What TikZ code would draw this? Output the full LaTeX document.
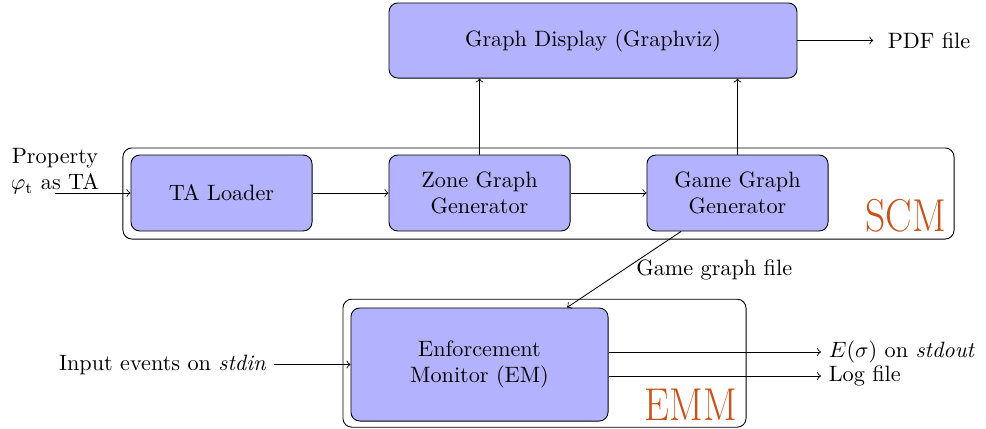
\documentclass[tikz,border=0pt]{standalone}
\usepackage{amsmath, amsfonts, amssymb}
\usepackage{xcolor}
\usepackage{tikz}
\definecolor{modcolor}{RGB}{200,82,25}
\tikzset{
block/.style={draw, rounded corners, fill=blue!30, align=center, inner sep=0pt},
modbox/.style={draw, rounded corners, inner sep=0pt},
modname/.style={anchor=south east, inner sep=0pt, text=modcolor, font=\huge, xscale=0.86}
}

\begin{document}
\begin{tikzpicture}[x=0.45pt, y=-0.45pt]
\useasboundingbox (0,0) rectangle (986,428);
% the two modules
\node[modbox, minimum width=374pt, minimum height=41pt] (scm) at (538.5,193.5) {};
\node[modbox, minimum width=181.4pt, minimum height=57.6pt] (emm) at (544.5,363.2) {};
\node[modname] at ([xshift=-3.6pt, yshift=3.2pt]scm.south east) {SCM};
\node[modname] at ([xshift=-4pt, yshift=3.2pt]emm.south east) {EMM};
% blocks
\node[block, minimum width=183.6pt, minimum height=33.8pt] (gd) at (593,40.5) {Graph Display (Graphviz)};
\node[block, minimum width=81.5pt, minimum height=34.2pt] (ta) at (221.5,193) {TA Loader};
\node[block, minimum width=81.5pt, minimum height=34.2pt] (zone) at (479.5,193) {Zone Graph\\Generator};
\node[block, minimum width=81.5pt, minimum height=34.2pt] (game) at (737.5,193) {Game Graph\\Generator};
\node[block, minimum width=115.7pt, minimum height=50.9pt] (em) at (479.5,364.5) {Enforcement\\Monitor (EM)};
% inputs and outputs
\node[align=center] (prop) at (55,171) {Property\\$\varphi_{\mathrm{t}}$ as TA};
\coordinate (propin) at (55,193);
\node[anchor=east] (events) at (274,364.5) {Input events on \textit{stdin}};
\node[anchor=west] (pdf) at (880,40.5) {PDF file};
\node[anchor=west] (out) at (821,352) {$E(\sigma)$ on \textit{stdout}};
\node[anchor=west] (log) at (821,376) {Log file};
% connectors
\draw[->] (propin) -- (ta);
\draw[->] (ta) -- (zone);
\draw[->] (zone) -- (game);
\draw[->] (zone.north) -- (zone.north |- gd.south);
\draw[->] (game.north) -- (game.north |- gd.south);
\draw[->, shorten >=3pt] (gd) -- (pdf.west);
\draw[->] ([xshift=-25.4pt]game.south) -- node[pos=0.5, right, xshift=2pt] {Game graph file} ([xshift=39.4pt]em.north);
\draw[->] (events) -- (em);
\draw[->] (em.east |- out.west) -- (out.west);
\draw[->] (em.east |- log.west) -- (log.west);
\end{tikzpicture}
\end{document}
